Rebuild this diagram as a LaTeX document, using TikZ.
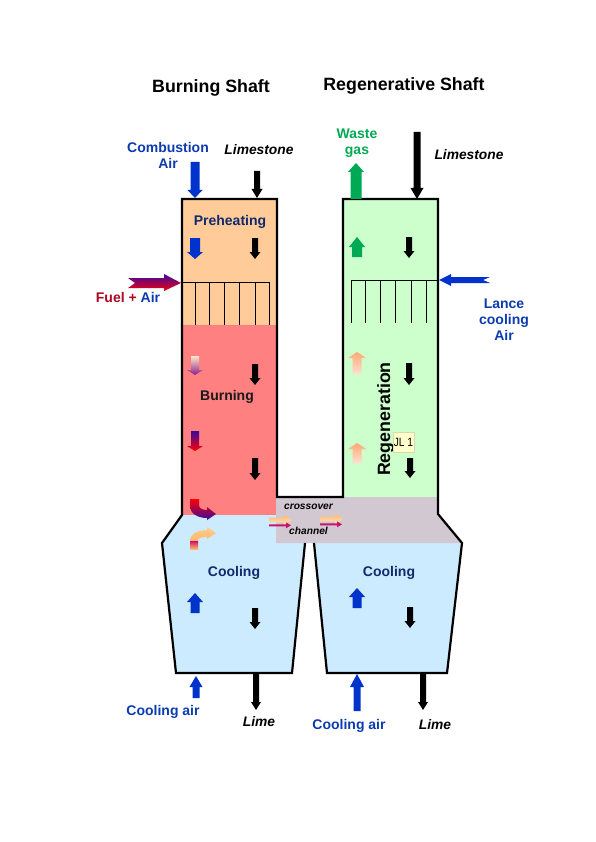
\documentclass[tikz,border=0pt]{standalone}
\usepackage{fontspec}
\setmainfont{Liberation Sans}
\definecolor{preheat}{HTML}{FFCC99}
\definecolor{burn}{HTML}{FF8080}
\definecolor{regen}{HTML}{CCFFCC}
\definecolor{cool}{HTML}{CCEBFF}
\definecolor{cross}{HTML}{D2C8D2}
\definecolor{airblue}{HTML}{0033CC}
\definecolor{txtblue}{HTML}{0B3BB0}
\definecolor{navy}{HTML}{12296B}
\definecolor{wastegreen}{HTML}{00AA55}
\definecolor{fuelred}{HTML}{AA0A22}
\definecolor{stickynote}{HTML}{FFFFCC}
\definecolor{peachA}{HTML}{FFA873}
\definecolor{peachB}{HTML}{FFE0D2}
\definecolor{ambA}{HTML}{FFE6C8}
\definecolor{ambB}{HTML}{FFB866}
\definecolor{purp}{HTML}{8A1E8A}
\definecolor{ind}{HTML}{3A0A9E}
\definecolor{mag}{HTML}{C8146E}
\tikzset{
  wall/.style={draw=black,line width=2.2pt,line join=miter},
  grid line/.style={draw=black,line width=1pt},
  lbl/.style={font=\bfseries\fontsize{14}{16}\selectfont,align=center,inner sep=0pt},
  lbl blue/.style={lbl,text=txtblue},
  lbl navy/.style={lbl,text=navy},
  lbl ital/.style={font=\bfseries\itshape\fontsize{13.8}{15}\selectfont,inner sep=0pt,text=black},
  title/.style={font=\bfseries\fontsize{17.8}{20}\selectfont,inner sep=0pt,text=black},
  blackarr/.style={fill=black},
  bluearr/.style={fill=airblue},
  greenarr/.style={fill=wastegreen},
  peachup/.style={top color=peachA,bottom color=peachB},
  peachdown/.style={top color=ambA,middle color=ambB,bottom color=purp},
  hotdown/.style={top color=ind,bottom color=red},
  flowtop/.style={top color=ambB,bottom color=ambA},
  flowlow/.style={fill=mag},
  small ital/.style={font=\bfseries\itshape\fontsize{10.2}{12}\selectfont,inner sep=0pt},
}
% vertical block arrow: x, tail y, head-base y, tip y, half shaft, half head, style
\newcommand{\vblock}[7]{\path[#7] ({#1-#5},#2) -- ({#1+#5},#2) -- ({#1+#5},#3) -- ({#1+#6},#3) -- (#1,#4) -- ({#1-#6},#3) -- ({#1-#5},#3) -- cycle;}
% thin horizontal flow arrow: x0, base x, tip x, y, half shaft, half head, style
\newcommand{\hblock}[7]{\path[#7] (#1,{#4-#5}) -- (#2,{#4-#5}) -- (#2,{#4-#6}) -- (#3,#4) -- (#2,{#4+#6}) -- (#2,{#4+#5}) -- (#1,{#4+#5}) -- cycle;}
\begin{document}
\begin{tikzpicture}[x=1pt,y=-1pt]
\useasboundingbox (0,0) rectangle (595,842);
% fills
\fill[preheat] (182,199) rectangle (277,325);
\fill[burn] (182,325) rectangle (277,515);
\fill[regen] (343,199) rectangle (438,497);
\fill[cool] (182,515) -- (162,543) -- (176,673) -- (292,673) -- (305,543) -- (276,543) -- (276,515) -- cycle;
\fill[cool] (314,543) -- (462,543) -- (447,673) -- (327,673) -- cycle;
\fill[cross] (276,497) -- (438,497) -- (438,514) -- (462,543) -- (276,543) -- cycle;
% walls
\draw[wall] (305,543) -- (292,673) -- (176,673) -- (162,543) -- (182,515) -- (182,199) -- (277,199) -- (277,497) -- (343,497) -- (343,199) -- (438,199) -- (438,514) -- (462,543) -- (447,673) -- (327,673) -- (314,543);
% burners
\draw[grid line] (182,282) -- (269,282) -- (269,325);
\foreach \x in {195,209,224,239,255} \draw[grid line] (\x,282) -- (\x,325);
\draw[grid line] (438,280) -- (351,280) -- (351,323);
\foreach \x in {365,380,395,411,426} \draw[grid line] (\x,280) -- (\x,323);
% top and bottom arrows
\vblock{195}{162}{190}{198}{4.5}{7.5}{bluearr}
\vblock{257}{171}{189}{198}{3}{5.5}{blackarr}
\vblock{356}{199}{172}{163}{5.5}{8}{greenarr}
\vblock{417}{132}{188}{199}{3.5}{6.5}{blackarr}
\vblock{196}{698}{687}{676}{3.5}{6.5}{bluearr}
\vblock{357}{711}{687}{674}{3.5}{7}{bluearr}
\vblock{256}{673}{702}{710}{3}{5}{blackarr}
\vblock{423}{673}{702}{710}{3}{5}{blackarr}
% preheating
\vblock{195}{238}{252}{259}{5}{8}{bluearr}
\vblock{255}{238}{252}{259}{3}{5.5}{blackarr}
\vblock{357}{257}{247}{237}{5}{8}{greenarr}
\vblock{409}{237}{251}{258}{3}{5.5}{blackarr}
% fuel arrow
\path[top color=ind,bottom color=red!90!violet]
  (128,278) -- (164,278) -- (164,274) -- (181,283) -- (164,291) -- (164,288) -- (128,288) -- (135,283) -- cycle;
% lance arrow
\path[bluearr] (490,277) -- (451,277) -- (451,274) -- (439,280) -- (451,286) -- (451,283) -- (490,283) -- (483,280) -- cycle;
% burning arrows
\vblock{195}{356}{370}{375}{4}{8}{peachdown}
\vblock{255}{364}{378}{385}{3}{5.5}{blackarr}
\vblock{195}{431}{446}{451}{4}{8}{hotdown}
\vblock{255}{458}{473}{480}{3}{5.5}{blackarr}
\path[top color=red,bottom color=ind] (190,499) -- (199,499) -- (199,505) .. controls (199,508) and (202,510) .. (207,510) -- (207,507) -- (216,514) -- (207,520) -- (207,518) .. controls (197,518) and (190,513) .. (190,506) -- cycle;
\path[top color=ambB!70!white,bottom color=ambB] (190,541) .. controls (190,535) and (196,530) .. (207,530) -- (207,527) -- (216,533) -- (207,539) -- (207,537) .. controls (201,537) and (198,538) .. (198,541) -- cycle;
\path[top color=mag,bottom color=ambB] (190,541) rectangle (198,549);
% regeneration arrows
\vblock{357}{374}{358}{352}{4.5}{9}{peachup}
\vblock{357}{463}{449}{443}{4.5}{9}{peachup}
\vblock{409}{363}{378}{385}{3}{5.5}{blackarr}
\vblock{410}{458}{471}{478}{3}{5.5}{blackarr}
% cooling arrows
\vblock{195}{613}{602}{593}{4.5}{8}{bluearr}
\vblock{255}{608}{622}{629}{3}{5.5}{blackarr}
\vblock{357}{608}{597}{588}{4.5}{8}{bluearr}
\vblock{410}{607}{621}{628}{3}{5.5}{blackarr}
% crossover arrows
\hblock{269}{284}{292}{520}{2.4}{5.5}{flowtop}
\hblock{269}{286}{291}{525.3}{1}{3}{flowlow}
\hblock{320}{335}{343}{519}{2.4}{5.5}{flowtop}
\hblock{320}{337}{342}{524.3}{1}{3}{flowlow}
% labels
\node[title] (t1) at (211,88) {Burning Shaft};
\node[title] (t2) at (404,86) {Regenerative Shaft};
\node[lbl blue] (combair) at (168,155) {Combustion\\Air};
\node[lbl ital] (ls1) at (259,150) {Limestone};
\node[lbl ital] (ls2) at (469,155) {Limestone};
\node[lbl,text=wastegreen] (waste) at (357,143.5) {Waste\\gas};
\node[lbl] (fuel) at (128,297) {\textcolor{fuelred}{Fuel + }\textcolor{txtblue}{Air}};
\node[lbl blue] (lance) at (504,320) {Lance\\cooling\\Air};
\node[lbl navy] (pre) at (230,222) {Preheating};
\node[lbl,text=black!90] (burning) at (227,397) {Burning};
\node[lbl navy] (c1) at (234,573) {Cooling};
\node[lbl navy] (c2) at (389,573) {Cooling};
\node[lbl blue] (ca1) at (163,712) {Cooling air};
\node[lbl blue] (ca2) at (349,726) {Cooling air};
\node[lbl ital] (l1) at (259,722) {Lime};
\node[lbl ital] (l2) at (435,725) {Lime};
\node[small ital] (xo) at (308.5,507) {crossover};
\node[small ital] (ch) at (308.5,531) {channel};
\node[font=\bfseries\fontsize{17.8}{20}\selectfont,rotate=90,inner sep=0pt] (rg) at (385.5,419) {Regeneration};
\node[draw=stickynote!85!black,fill=stickynote,line width=0.5pt,minimum width=21pt,minimum height=20pt,inner sep=0pt,font=\fontsize{12}{14}\selectfont] (jl) at (403.5,442) {\scalebox{0.85}[1]{JL 1}};
\end{tikzpicture}
\end{document}
